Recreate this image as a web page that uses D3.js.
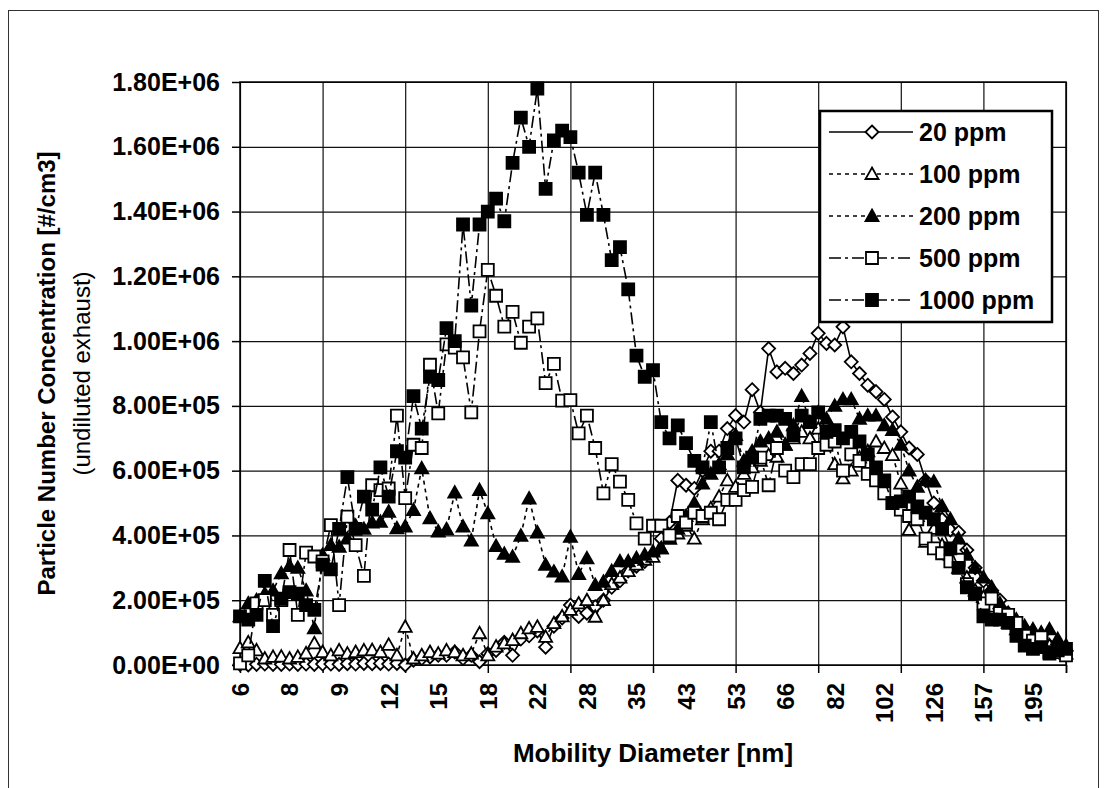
<!DOCTYPE html>
<html>
<head>
<meta charset="utf-8">
<script src="https://d3js.org/d3.v7.min.js"></script>
<style>
body { margin: 0; background: #fff; }
text { font-family: 'Liberation Sans', Arial, sans-serif; }
</style>
</head>
<body>
<script>
// SMPS channel mid-point diameters [nm], one per category (64 channels/decade)
var diameters = [6.2, 6.4, 6.6, 6.9, 7.1, 7.4, 7.6, 7.9, 8.2, 8.5, 8.8, 9.1, 9.5, 9.8, 10.2, 10.6, 10.9,
  11.3, 11.8, 12.2, 12.6, 13.1, 13.6, 14.1, 14.6, 15.1, 15.7, 16.2, 16.8, 17.5, 18.1, 18.8, 19.4,
  20.2, 20.9, 21.7, 22.5, 23.3, 24.1, 25.0, 25.9, 26.9, 27.9, 28.9, 29.9, 31.0, 32.2, 33.4, 34.6,
  35.8, 37.2, 38.5, 39.9, 41.4, 42.9, 44.5, 46.1, 47.8, 49.6, 51.4, 53.3, 55.2, 57.2, 59.3, 61.5,
  63.8, 66.1, 68.5, 71.0, 73.6, 76.3, 79.1, 82.0, 85.0, 88.1, 91.4, 94.7, 98.2, 101.8, 105.5, 109.4,
  113.4, 117.5, 121.8, 126.3, 130.9, 135.7, 140.7, 145.8, 151.2, 156.7, 162.5, 168.4, 174.6, 181.0,
  187.6, 194.5, 201.6, 209.0, 216.6, 224.6];

// axis labels shown under every 6th channel
var tickLabels = ["6", "8", "9", "12", "15", "18", "22", "28", "35", "43", "53", "66", "82", "102", "126", "157", "195"];

// y axis ticks (#/cm3, in units of 1e5)
var yTicks = [0, 2, 4, 6, 8, 10, 12, 14, 16, 18];

// series values, #/cm3 in units of 1e5
var ppm20 = [0.02, 0.0, 0.02, 0.03, 0.02, 0.02, 0.03, 0.02, 0.03, 0.02, 0.03, 0.03, 0.02, 0.04, 0.03, 0.05, 0.04,
  0.05, 0.03, 0.05, 0.0, 0.15, 0.2, 0.25, 0.3, 0.3, 0.4, 0.2, 0.3, 0.1, 0.35, 0.45, 0.7,
  0.3, 0.8, 0.9, 1.05, 0.55, 1.2, 1.45, 1.85, 1.5, 1.6, 1.8, 2.0, 2.4, 2.6, 2.9, 3.05,
  3.2, 3.4, 3.9, 4.4, 5.7, 5.55, 5.45, 6.0, 6.6, 6.6, 7.3, 7.7, 7.5, 8.5, 7.8, 9.77,
  9.05, 9.16, 9.0, 9.26, 9.62, 10.24, 9.93, 9.88, 10.44, 9.36, 9.0, 8.64, 8.44, 8.2, 7.66, 7.2,
  6.7, 6.5, 5.7, 5.0, 4.5, 4.17, 4.1, 3.55, 3.0, 2.6, 2.3, 2.0, 1.6, 1.3, 1.1, 0.8,
  0.9, 0.6, 0.5, 0.45];
var ppm100 = [0.52, 0.7, 0.45, 0.2, 0.25, 0.26, 0.2, 0.25, 0.36, 0.67, 0.4, 0.3, 0.45, 0.35, 0.4, 0.45, 0.46,
  0.4, 0.62, 0.3, 1.18, 0.2, 0.3, 0.4, 0.35, 0.45, 0.4, 0.3, 0.35, 0.98, 0.3, 0.57, 0.67,
  0.77, 0.98, 1.13, 1.18, 0.87, 1.29, 1.5, 1.7, 1.9, 2.0, 1.49, 2.0, 2.5, 2.7, 2.9, 3.1,
  3.25, 3.34, 3.6, 3.9, 4.06, 4.3, 3.9, 4.5, 4.84, 5.2, 5.7, 5.5, 5.9, 6.1, 6.3, 6.48,
  6.43, 6.8, 7.0, 7.2, 7.0, 7.3, 6.9, 6.2, 5.76, 6.0, 6.4, 6.6, 6.9, 6.7, 6.48, 5.6,
  4.17, 4.6, 3.8, 4.2, 3.7, 3.4, 3.0, 2.7, 2.3, 2.1, 1.8, 1.5, 1.3, 1.1, 0.9, 0.8,
  0.7, 0.6, 0.5, 0.35];
var ppm200 = [1.5, 1.9, 2.0, 2.2, 2.3, 2.83, 3.05, 3.0, 2.3, 1.13, 3.4, 3.7, 3.65, 3.9, 4.3, 4.2, 4.4,
  4.42, 4.73, 4.22, 4.27, 4.78, 6.07, 4.53, 4.12, 4.19, 5.32, 4.27, 3.84, 5.4, 4.68, 3.67, 3.43,
  3.34, 3.99, 5.14, 4.09, 3.09, 2.88, 2.73, 3.96, 2.81, 3.29, 2.47, 2.57, 2.9, 3.2, 3.2, 3.3,
  3.4, 3.5, 3.6, 3.9, 4.2, 4.6, 5.0, 5.6, 5.9, 6.2, 6.5, 7.1, 6.3, 6.6, 6.9, 7.0,
  7.2, 6.8, 7.4, 8.3, 7.5, 7.8, 7.6, 8.0, 8.2, 8.2, 7.6, 7.7, 7.7, 7.4, 7.25, 6.8,
  6.0, 5.5, 5.7, 5.66, 4.9, 4.5, 3.9, 3.4, 3.0, 2.7, 2.4, 1.9, 1.6, 1.4, 1.2, 1.1,
  1.0, 1.1, 0.8, 0.6];
var ppm500 = [0.05, 0.3, 1.9, 2.0, 1.55, 2.0, 3.55, 1.55, 3.47, 3.35, 3.2, 4.32, 1.85, 4.58, 3.7, 2.75, 5.55,
  5.4, 5.45, 7.7, 5.15, 6.8, 6.7, 9.27, 7.77, 9.9, 9.8, 9.5, 7.8, 10.3, 12.2, 11.4, 10.45,
  10.9, 9.95, 10.45, 10.7, 8.7, 9.3, 8.16, 8.18, 7.15, 7.7, 6.7, 5.3, 6.2, 5.66, 5.1, 4.37,
  3.9, 4.3, 4.3, 4.0, 4.6, 4.4, 4.7, 4.6, 4.7, 4.5, 5.1, 5.1, 5.4, 5.5, 6.4, 5.55,
  6.7, 6.0, 5.8, 6.2, 6.2, 6.7, 6.8, 6.9, 6.0, 6.5, 6.3, 5.9, 5.7, 5.3, 5.0, 4.8,
  4.6, 4.5, 3.9, 3.6, 3.45, 3.2, 3.25, 2.5, 2.2, 1.9, 2.05, 1.6, 1.55, 1.3, 0.9, 0.75,
  0.85, 0.35, 0.4, 0.3];
var ppm1000 = [1.5, 1.4, 1.55, 2.6, 1.2, 2.05, 2.25, 2.2, 1.85, 1.7, 3.1, 2.95, 4.2, 5.8, 4.2, 5.2, 4.8,
  6.1, 5.2, 6.6, 6.4, 8.3, 7.3, 8.9, 8.8, 10.4, 10.0, 13.6, 11.1, 13.6, 14.0, 14.4, 13.7,
  15.5, 16.9, 16.0, 17.8, 14.7, 16.2, 16.5, 16.3, 15.2, 13.9, 15.2, 13.9, 12.5, 12.9, 11.6, 9.55,
  8.9, 9.1, 7.5, 7.0, 7.4, 6.85, 6.3, 6.1, 7.5, 6.1, 6.7, 7.0, 6.1, 6.4, 7.6, 7.7,
  7.7, 7.6, 7.1, 7.7, 7.5, 7.8, 7.2, 7.25, 7.0, 7.2, 6.9, 6.5, 6.1, 5.7, 5.0, 5.05,
  5.2, 4.9, 4.7, 4.5, 4.2, 3.6, 3.0, 2.4, 2.2, 1.5, 1.4, 1.4, 1.3, 0.9, 0.6, 0.5,
  0.55, 0.4, 0.45, 0.5];

var W = 1107, H = 788;
var L = 240, R = 1066, T = 82, B = 665;

var series = [
  {name: "20 ppm", values: ppm20, dash: null, shape: "diamond", fill: "#fff"},
  {name: "100 ppm", values: ppm100, dash: "4,4", shape: "triangle", fill: "#fff"},
  {name: "200 ppm", values: ppm200, dash: "4,4", shape: "triangle", fill: "#000"},
  {name: "500 ppm", values: ppm500, dash: "12,4,3,4", shape: "square", fill: "#fff"},
  {name: "1000 ppm", values: ppm1000, dash: "12,4,3,4", shape: "square", fill: "#000"}
];

var shapes = {
  diamond: "M0,-6.5L6.5,0L0,6.5L-6.5,0Z",
  triangle: "M0,-6.5L6.5,5L-6.5,5Z",
  square: "M-6,-6H6V6H-6Z"
};

var x = d3.scaleLinear().domain([0, diameters.length - 1]).range([L, R]);
var y = d3.scaleLinear().domain([0, 18]).range([B, T]);

// excel style "1.80E+06"
function sci(v) {
  v = v * 1e5;
  if (v === 0) return "0.00E+00";
  var e = Math.floor(Math.log10(v) + 1e-9);
  return (v / Math.pow(10, e)).toFixed(2) + "E+" + String(e).padStart(2, "0");
}

var svg = d3.select("body").append("svg")
  .attr("width", W)
  .attr("height", H);

svg.append("rect").attr("width", W).attr("height", H).attr("fill", "#fff");

// chart border
svg.append("rect")
  .attr("x", 8.5).attr("y", 10.5)
  .attr("width", 1090).attr("height", 800)
  .attr("fill", "none").attr("stroke", "#333").attr("stroke-width", 1);

// gridlines
var gridIdx = d3.range(0, diameters.length, 10);
svg.append("g")
  .attr("transform", "translate(0," + T + ")")
  .call(d3.axisBottom(x).tickValues(gridIdx).tickSize(B - T).tickFormat(""))
  .call(function(g) { g.select(".domain").remove(); })
  .selectAll("line").attr("stroke", "#111").attr("stroke-width", 1.2);

svg.append("g")
  .attr("transform", "translate(" + L + ",0)")
  .call(d3.axisLeft(y).tickValues(yTicks).tickSize(-(R - L)).tickFormat(""))
  .call(function(g) { g.select(".domain").remove(); })
  .selectAll("line").attr("stroke", "#111").attr("stroke-width", 1.2);

// plot border
svg.append("rect")
  .attr("x", L).attr("y", T)
  .attr("width", R - L).attr("height", B - T)
  .attr("fill", "none").attr("stroke", "#000").attr("stroke-width", 1.5);

// y axis
var yAxis = svg.append("g")
  .attr("transform", "translate(" + L + ",0)")
  .call(d3.axisLeft(y).tickValues(yTicks).tickFormat(sci).tickSize(8).tickPadding(12));
yAxis.select(".domain").remove();
yAxis.selectAll("line").attr("stroke", "#000").attr("stroke-width", 1.5);
yAxis.selectAll("text")
  .attr("font-family", "'Liberation Sans', Arial, sans-serif")
  .attr("font-size", 25).attr("font-weight", "bold").attr("fill", "#000");

// x axis tick marks (every 10 channels) and labels (every 6 channels)
var xTicks = svg.append("g")
  .attr("transform", "translate(0," + B + ")")
  .call(d3.axisBottom(x).tickValues(gridIdx.concat([diameters.length - 1])).tickSize(8).tickFormat(""));
xTicks.select(".domain").remove();
xTicks.selectAll("line").attr("stroke", "#000").attr("stroke-width", 1.5);

var labelIdx = tickLabels.map(function(d, i) { return i * 6; });
var xAxis = svg.append("g")
  .attr("transform", "translate(0," + B + ")")
  .call(d3.axisBottom(x).tickValues(labelIdx).tickSize(0)
    .tickFormat(function(d, i) { return tickLabels[i]; }));
xAxis.select(".domain").remove();
xAxis.selectAll("text")
  .attr("font-family", "'Liberation Sans', Arial, sans-serif")
  .attr("font-size", 24).attr("font-weight", "bold").attr("fill", "#000")
  .attr("transform", "rotate(-90)")
  .attr("x", -18).attr("y", 0).attr("dy", "0.35em")
  .style("text-anchor", "end");

// series
var line = d3.line()
  .x(function(d, i) { return x(i); })
  .y(function(d) { return y(d); });

series.forEach(function(s) {
  svg.append("path")
    .datum(s.values)
    .attr("d", line)
    .attr("fill", "none")
    .attr("stroke", "#000")
    .attr("stroke-width", 1.6)
    .attr("stroke-dasharray", s.dash);

  svg.append("g").selectAll("path")
    .data(s.values)
    .enter().append("path")
    .attr("d", shapes[s.shape])
    .attr("transform", function(d, i) { return "translate(" + x(i) + "," + y(d) + ")"; })
    .attr("fill", s.fill)
    .attr("stroke", "#000")
    .attr("stroke-width", 1.8);
});

// legend
var legend = svg.append("g");
legend.append("rect")
  .attr("x", 820).attr("y", 111)
  .attr("width", 232).attr("height", 211)
  .attr("fill", "#fff").attr("stroke", "#000").attr("stroke-width", 2.5);

var items = legend.selectAll("g.item")
  .data(series)
  .enter().append("g")
  .attr("class", "item")
  .attr("transform", function(d, i) { return "translate(0," + (132 + i * 42) + ")"; });

items.append("line")
  .attr("x1", 829).attr("x2", 913)
  .attr("stroke", "#000").attr("stroke-width", 1.6)
  .attr("stroke-dasharray", function(d) { return d.dash; });

items.append("path")
  .attr("d", function(d) { return shapes[d.shape]; })
  .attr("transform", "translate(872,0)")
  .attr("fill", function(d) { return d.fill; })
  .attr("stroke", "#000").attr("stroke-width", 1.8);

items.append("text")
  .attr("x", 919).attr("dy", "0.35em")
  .attr("font-size", 25).attr("font-weight", "bold")
  .text(function(d) { return d.name; });

// axis titles
svg.append("text")
  .attr("x", (L + R) / 2).attr("y", 762)
  .attr("text-anchor", "middle")
  .attr("font-size", 26).attr("font-weight", "bold")
  .text("Mobility Diameter [nm]");

svg.append("text")
  .attr("transform", "translate(47," + (T + B) / 2 + ") rotate(-90)")
  .attr("text-anchor", "middle").attr("dy", "0.35em")
  .attr("font-size", 24).attr("font-weight", "bold")
  .text("Particle Number Concentration [#/cm3]");

svg.append("text")
  .attr("transform", "translate(82," + (T + B) / 2 + ") rotate(-90)")
  .attr("text-anchor", "middle").attr("dy", "0.35em")
  .attr("font-size", 24)
  .text("(undiluted exhaust)");
</script>
</body>
</html>
